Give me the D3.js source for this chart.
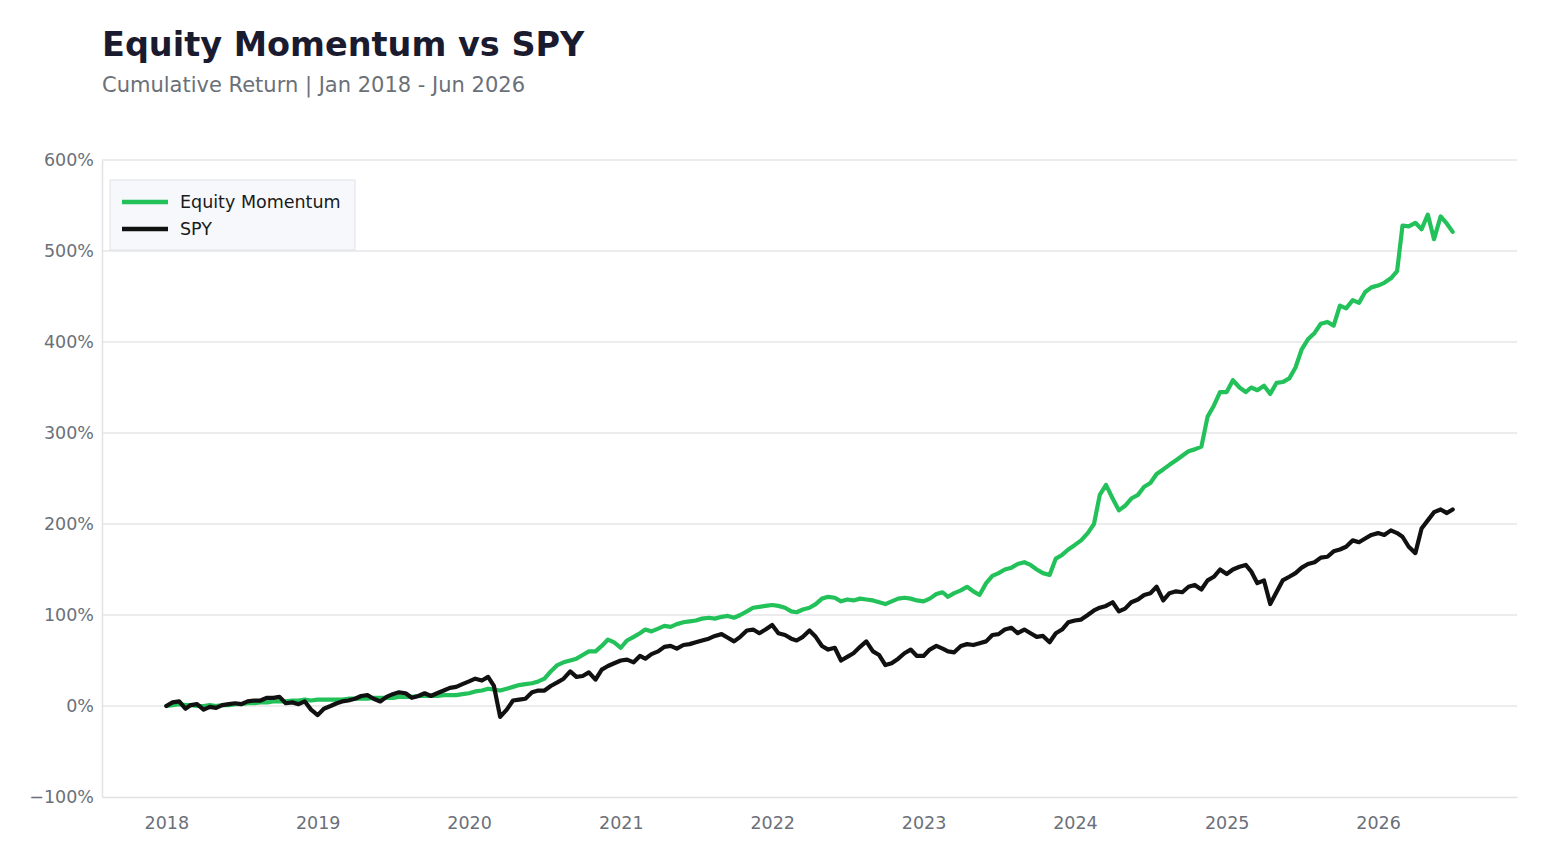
<!DOCTYPE html>
<html>
<head>
<meta charset="utf-8">
<script src="https://cdn.jsdelivr.net/npm/d3@7"></script>
<style>
  body { margin: 0; background: #fff; font-family: "DejaVu Sans", sans-serif; }
</style>
</head>
<body>
<div id="chart"></div>
<script>
// semi-monthly sample points (1st and 16th of each month), cumulative return in %
var dates = [];
for (var y = 2018; y <= 2026; y++) {
  for (var m = 0; m < 12; m++) {
    if (y === 2026 && m > 5) break;
    dates.push(new Date(y, m, 1));
    dates.push(new Date(y, m, 16));
  }
}
dates.push(new Date(2026, 5, 30));

var momentum = [
  // 2018
  0, 1, 2, 1, 1, 0, 0, 1, 0, 1, 1, 2, 2, 3, 3, 4, 4, 5, 5, 5, 6, 6, 7, 6,
  // 2019
  7, 7, 7, 7, 7, 8, 8, 8, 8, 9, 9, 9, 9, 10, 10, 10, 11, 11, 11, 11, 12, 12, 12, 13,
  // 2020
  14, 16, 17, 19, 18, 17, 19, 21, 23, 24, 25, 27, 30, 38, 45, 48, 50, 52, 56, 60, 60, 66, 73, 70,
  // 2021
  64, 72, 76, 80, 84, 82, 85, 88, 87, 90, 92, 93, 94, 96, 97, 96, 98, 99, 97, 100, 104, 108, 109, 110,
  // 2022
  111, 110, 108, 104, 103, 106, 108, 112, 118, 120, 119, 115, 117, 116, 118, 117, 116, 114, 112, 115, 118, 119, 118, 116,
  // 2023
  115, 118, 123, 125, 120, 124, 127, 131, 126, 122, 135, 143, 146, 150, 152, 156, 158, 155, 150, 146, 144, 162, 166, 172,
  // 2024
  177, 182, 190, 200, 232, 243, 228, 215, 220, 228, 232, 241, 245, 255, 260, 265, 270, 275, 280, 282, 285, 318, 330, 345,
  // 2025
  345, 358, 350, 345, 350, 347, 352, 343, 355, 356, 360, 372, 392, 403, 410, 420, 422, 418, 440, 437, 446, 443, 455, 460,
  // 2026
  462, 465, 470, 478, 528, 527, 531, 524, 540, 513, 538, 530, 521
];

var spy = [
  // 2018
  0, 4, 5, -3, 1, 2, -4, -1, -2, 1, 2, 3, 2, 5, 6, 6, 9, 9, 10, 3, 4, 2, 5, -4,
  // 2019
  -10, -3, 0, 3, 5, 6, 8, 11, 12, 8, 5, 10, 13, 15, 14, 9, 11, 14, 11, 14, 17, 20, 21, 24,
  // 2020
  27, 30, 28, 32, 22, -12, -4, 6, 7, 8, 15, 17, 17, 22, 26, 30, 38, 32, 33, 37, 29, 40, 44, 47,
  // 2021
  50, 51, 48, 55, 52, 57, 60, 65, 66, 63, 67, 68, 70, 72, 74, 77, 79, 75, 71, 76, 83, 84, 80, 84,
  // 2022
  89, 80, 78, 74, 72, 76, 83, 76, 66, 62, 64, 50, 54, 58, 65, 71, 60, 56, 45, 47, 52, 58, 62, 55,
  // 2023
  55, 62, 66, 63, 60, 59, 66, 68, 67, 69, 71, 78, 79, 84, 86, 80, 84, 80, 76, 77, 70, 80, 84, 92,
  // 2024
  94, 95, 100, 105, 108, 110, 114, 104, 107, 114, 117, 122, 124, 131, 116, 124, 126, 125, 131, 133, 128, 138, 142, 150,
  // 2025
  145, 150, 153, 155, 148, 135, 138, 112, 125, 138, 142, 146, 152, 156, 158, 163, 164, 170, 172, 175, 182, 180, 184, 188,
  // 2026
  190, 188, 193, 190, 186, 175, 168, 195, 204, 213, 216, 212, 216
];

var seriesNames = ["Equity Momentum", "SPY"];
var seriesColors = ["#22c15a", "#111111"];
var yTicks = [-100, 0, 100, 200, 300, 400, 500, 600];
var yearTicks = d3.range(2018, 2027).map(function (yr) { return new Date(yr, 0, 1); });

var svgWidth = 1547;
var svgHeight = 862;
var margin = { top: 160, right: 30, bottom: 65, left: 102 };
var width = svgWidth - margin.left - margin.right;
var height = svgHeight - margin.top - margin.bottom;

var svg = d3.select("#chart")
  .append("svg")
  .attr("width", svgWidth)
  .attr("height", svgHeight);

// title + subtitle
svg.append("text")
  .attr("x", 102)
  .attr("y", 56)
  .attr("font-size", "33.5px")
  .attr("font-weight", "bold")
  .attr("fill", "#1b1b2f")
  .text("Equity Momentum vs SPY");

svg.append("text")
  .attr("x", 102)
  .attr("y", 92)
  .attr("font-size", "21px")
  .attr("fill", "#6b7079")
  .text("Cumulative Return | Jan 2018 - Jun 2026");

var chartGroup = svg.append("g")
  .attr("transform", `translate(${margin.left}, ${margin.top})`);

// matplotlib-style 5% padding around the data extent
var t0 = dates[0].getTime();
var t1 = dates[dates.length - 1].getTime();
var pad = (t1 - t0) * 0.05;
var xScale = d3.scaleTime()
  .domain([new Date(t0 - pad), new Date(t1 + pad)])
  .range([0, width]);

var yScale = d3.scaleLinear()
  .domain([-100, 600])
  .range([height, 0]);

// gridlines
chartGroup.append("g")
  .selectAll("line")
  .data(yTicks.slice(1))
  .enter()
  .append("line")
  .attr("x1", 0)
  .attr("x2", width)
  .attr("y1", d => yScale(d))
  .attr("y2", d => yScale(d))
  .attr("stroke", "#e6e6e9")
  .attr("stroke-width", 1.3);

// axes
var fmtPct = function (d) { return (d < 0 ? "\u2212" + Math.abs(d) : d) + "%"; };

var leftAxis = d3.axisLeft(yScale).tickValues(yTicks).tickFormat(fmtPct).tickSize(0).tickPadding(8);
var bottomAxis = d3.axisBottom(xScale).tickValues(yearTicks).tickFormat(d3.timeFormat("%Y")).tickSize(0).tickPadding(20);

var yAxis = chartGroup.append("g").call(leftAxis);
var xAxis = chartGroup.append("g")
  .attr("transform", `translate(0, ${height})`)
  .call(bottomAxis);

[xAxis, yAxis].forEach(function (ax) {
  ax.select(".domain").attr("stroke", "#e2e2e4").attr("stroke-width", 1.5);
  ax.selectAll("text")
    .attr("font-family", "DejaVu Sans")
    .attr("font-size", "17.5px")
    .attr("fill", "#6b7079");
});

// lines
var allSeries = [momentum, spy];
var line = d3.line()
  .x((d, i) => xScale(dates[i]))
  .y(d => yScale(d))
  .curve(d3.curveLinear);

allSeries.forEach(function (vals, k) {
  chartGroup.append("path")
    .datum(vals)
    .attr("fill", "none")
    .attr("stroke", seriesColors[k])
    .attr("stroke-width", 4.2)
    .attr("stroke-linejoin", "round")
    .attr("stroke-linecap", "round")
    .attr("d", line);
});

// legend
var legend = svg.append("g").attr("transform", "translate(110, 180)");
legend.append("rect")
  .attr("width", 245)
  .attr("height", 70)
  .attr("fill", "#f6f8fc")
  .attr("stroke", "#dfe1e6")
  .attr("stroke-width", 1);

seriesNames.forEach(function (name, k) {
  var ly = 22 + k * 27;
  legend.append("line")
    .attr("x1", 12).attr("x2", 58)
    .attr("y1", ly).attr("y2", ly)
    .attr("stroke", seriesColors[k])
    .attr("stroke-width", 4.5);
  legend.append("text")
    .attr("x", 70)
    .attr("y", ly + 6)
    .attr("font-size", "17.5px")
    .attr("fill", "#1a1a1a")
    .text(name);
});
</script>
</body>
</html>
